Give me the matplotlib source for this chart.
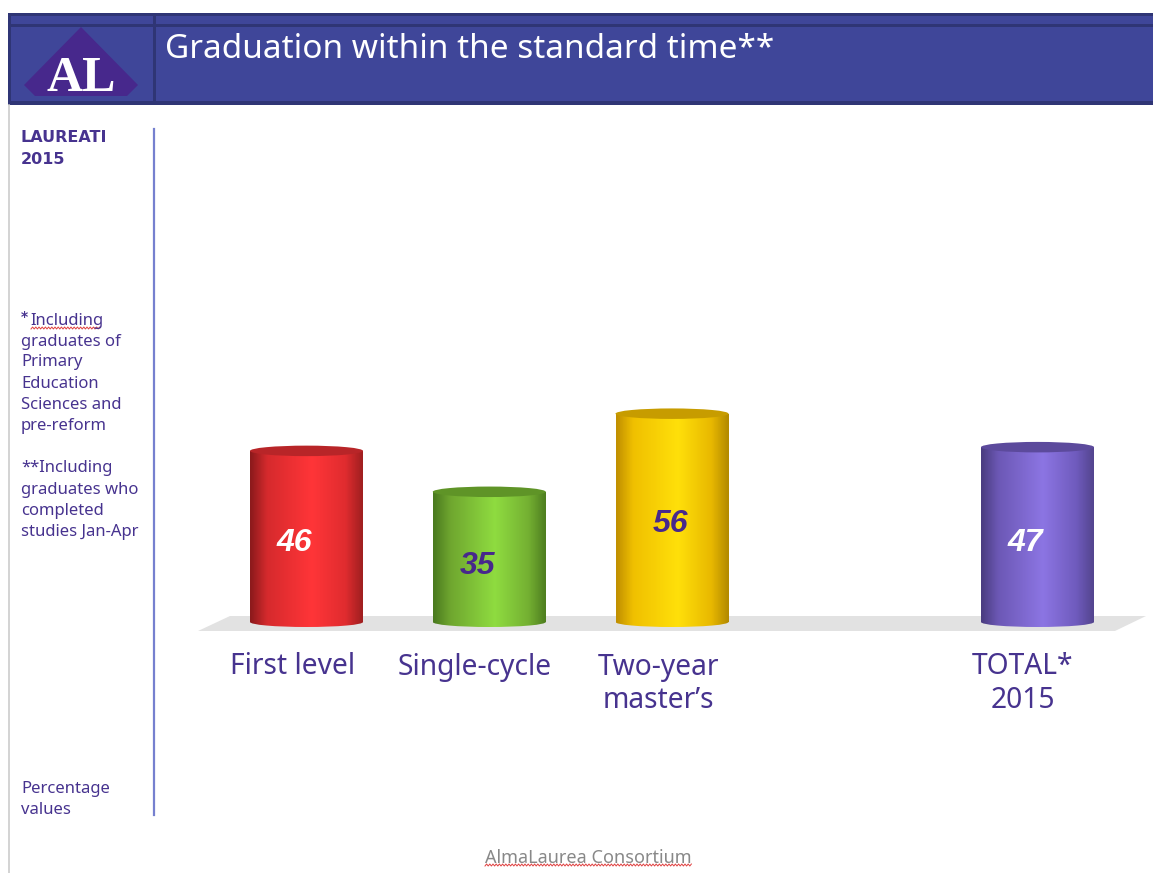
#!/usr/bin/env python3
# -*- coding: utf-8 -*-

import numpy as np
import matplotlib
matplotlib.use('Agg')
import matplotlib.pyplot as plt
from matplotlib.colors import LinearSegmentedColormap
from matplotlib.patches import Ellipse, Polygon, Rectangle
from matplotlib.transforms import ScaledTranslation

# chart data
categories = ['First level', 'Single-cycle', 'Two-year\nmaster\u2019s', 'TOTAL*\n2015']
values = [46, 35, 56, 47]
slots = [0, 1, 2, 4]
title = 'Graduation within the standard time**'
side_head = ['LAUREATI', '2015']
side_notes = ['Including', 'graduates of', 'Primary', 'Education', 'Sciences and', 'pre-reform']
side_notes2 = ['**Including', 'graduates who', 'completed', 'studies Jan-Apr']
side_unit = ['Percentage', 'values']
footer = 'AlmaLaurea Consortium'

# style per bar: edge, mid, highlight, right edge, top
bar_colors = [
    ['#8c1a1c', '#d62a2d', '#ff3538', '#e02c2f', '#a01f20', '#b82528'],
    ['#4a7a1f', '#6fa62f', '#8fdc40', '#74b032', '#4f7f20', '#5f9427'],
    ['#c08f00', '#f0c000', '#ffe00a', '#e8b800', '#b38a00', '#c79c00'],
    ['#4a3c80', '#6c58b5', '#8c75e3', '#6f5bbd', '#54458f', '#5c4a9c'],
]
value_colors = ['white', '#47288c', '#47288c', 'white']
value_dx = [-12, -12, -2, -12]
value_dy = [-7, -9, -6, -8]
label_dx = [-14, -15, -14, -15]

W, H = 1153, 873
FONT = 'Noto Sans'
INK = '#47338f'
plt.rcParams['font.family'] = FONT

fig = plt.figure(figsize=(W / 100, H / 100), dpi=100)


def px_axes(x0, y0, x1, y1):
    return fig.add_axes([x0 / W, 1 - y1 / H, (x1 - x0) / W, (y1 - y0) / H])


# page furniture in pixel coordinates
bg = px_axes(0, 0, W, H)
bg.set_xlim(0, W)
bg.set_ylim(H, 0)
bg.axis('off')


def squiggle(x0, x1, y):
    xs = np.arange(x0, x1, 1.6)
    ys = y + 1.0 * (-1.0) ** np.arange(len(xs))
    bg.plot(xs, ys, color='#e04040', lw=0.7)


bg.add_patch(Rectangle((8, 13), W - 8, 92, fc='#3f4699', ec='none'))
for box in [(8, 13, W - 8, 3), (8, 24, W - 8, 3), (8, 101, W - 8, 4), (8, 13, 3, 92), (153, 13, 3, 92)]:
    bg.add_patch(Rectangle(box[:2], box[2], box[3], fc='#2f3575', ec='none'))
bg.add_patch(Polygon([(81, 27), (24, 85), (35, 96), (127, 96), (138, 85)], fc='#47288c', ec='none'))
bg.text(81, 91, 'AL', color='white', family='Liberation Serif', weight='bold', fontsize=36,
        ha='center', va='baseline')
bg.text(165, 50, title, color='white', fontsize=24, va='center')

bg.plot([8.5, 8.5], [105, H], color='#cccccc', lw=1.2)
bg.plot([154, 154], [129, 815], color='#7680cf', lw=1.6)

for txt, y in zip(side_head, [138, 160]):
    bg.text(21, y, txt, color=INK, family='DejaVu Sans', weight='bold', fontsize=11.5, va='center')
bg.text(21, 317, '*', color=INK, family='DejaVu Sans', weight='bold', fontsize=10, va='center')
for txt, y in zip(side_notes, [321, 342, 362, 384, 405, 426]):
    bg.text(21 if y > 321 else 30, y, txt, color=INK, fontsize=12, va='center')
for txt, y in zip(side_notes2, [468, 490, 511, 532]):
    bg.text(21, y, txt, color=INK, fontsize=12, va='center')
for txt, y in zip(side_unit, [789, 810]):
    bg.text(21, y, txt, color=INK, fontsize=12, va='center')
squiggle(31, 100, 328)

bg.add_patch(Polygon([(198, 631), (230, 616), (1146, 616), (1115, 631)], fc='#e2e2e2', ec='none'))
bg.text(588, 858, footer, color='#888888', fontsize=13, ha='center', va='center')
squiggle(485, 692, 865)

# bars
ax = px_axes(198, 110, W, 640)
ax.patch.set_alpha(0)
unit_x = 182.75
unit_y = 3.72
ax.set_xlim((198 - 306.5) / unit_x, (W - 306.5) / unit_x)
ax.set_ylim((622 - 640) / unit_y, (622 - 110) / unit_y)
width = 113 / unit_x
bars = ax.bar(slots, values, width=width, color='none', edgecolor='none')
ax.set_autoscale_on(False)

for rect, val, cols in zip(bars, values, bar_colors):
    xc = rect.get_x() + width / 2
    cmap = LinearSegmentedColormap.from_list('cyl', list(zip([0, 0.15, 0.55, 0.85, 1], cols[:5])))
    grad = np.linspace(0, 1, 113).reshape(1, -1)
    base = Ellipse((xc, 0), width, 10 / unit_y, fc='none', ec='none')
    ax.add_patch(base)
    for clip, ext in [(rect, val), (base, 0)]:
        y0, y1 = (0, val) if ext else (-6 / unit_y, 6 / unit_y)
        im = ax.imshow(grad, cmap=cmap, aspect='auto', interpolation='bilinear', zorder=2,
                       extent=[xc - width / 2, xc + width / 2, y0, y1])
        im.set_clip_path(clip)
    ax.add_patch(Ellipse((xc, val), width, 10.5 / unit_y, fc=cols[5], ec='none', zorder=3))

for s, val, col, dx, dy in zip(slots, values, value_colors, value_dx, value_dy):
    ax.annotate(str(val), (s, val / 2), xytext=(dx, dy), textcoords='offset pixels', color=col,
                family='Liberation Sans', fontsize=23, weight='bold', style='italic',
                ha='center', va='center', zorder=4)

ax.set_xticks(slots, categories)
ax.tick_params(axis='x', length=0, pad=9, labelsize=20.3, labelcolor=INK)
ax.set_yticks([])
for lab, dx in zip(ax.get_xticklabels(), label_dx):
    lab.set_transform(lab.get_transform() + ScaledTranslation(dx / 100, 0, fig.dpi_scale_trans))
for sp in ax.spines.values():
    sp.set_visible(False)

plt.savefig('out.png', dpi=100)
